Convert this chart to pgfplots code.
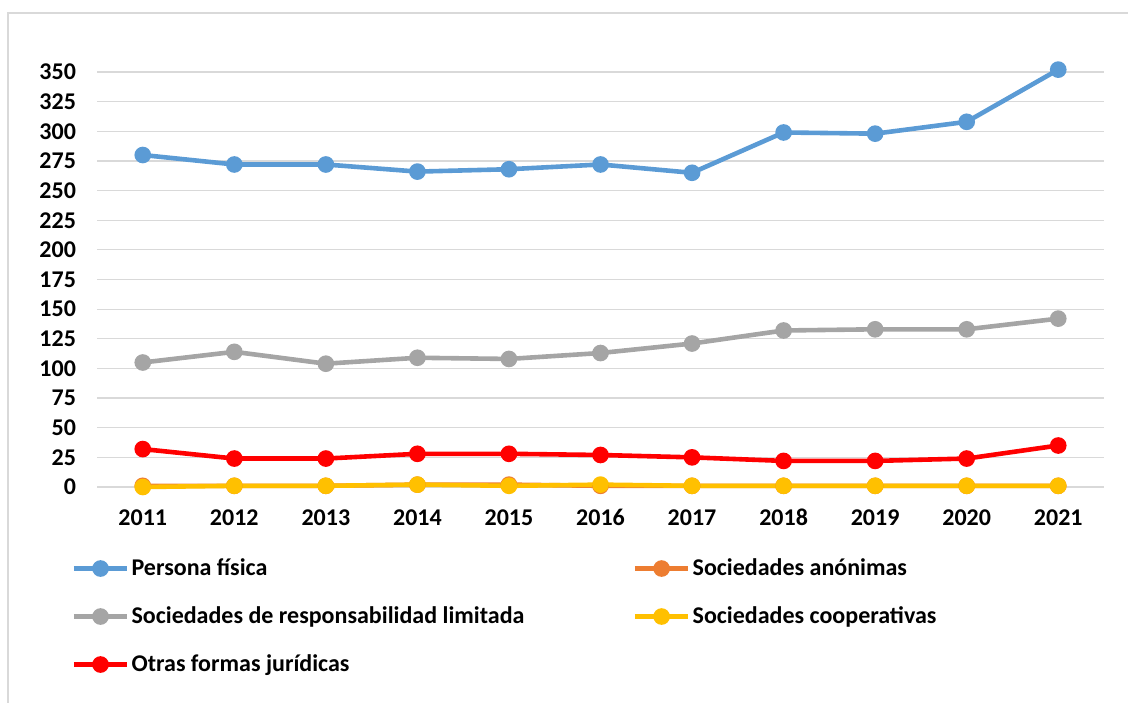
\documentclass[border=0pt]{standalone}
\usepackage{pgfplots}
\pgfplotsset{compat=1.18}
\usepackage{fontspec}
\setmainfont{Carlito}
\definecolor{cblue}{HTML}{5B9BD5}
\definecolor{corange}{HTML}{ED7D31}
\definecolor{cgray}{HTML}{A5A5A5}
\definecolor{cyellow}{HTML}{FFC000}
\definecolor{cred}{HTML}{FF0000}
\definecolor{cgrid}{HTML}{D9D9D9}
\newcommand{\lt}[1]{\makebox[240pt][l]{#1}}
\begin{document}
\begin{tikzpicture}
\clip (0,0) rectangle (564pt,351pt);
\draw[cgrid, line width=0.8pt] (4pt,-5pt) rectangle (580pt,344.5pt);
\begin{axis}[
  at={(48.5pt,107.5pt)}, anchor=south west,
  scale only axis, width=503.5pt, height=207.5pt,
  xmin=-0.5, xmax=10.5, ymin=0, ymax=350,
  clip=false,
  axis line style={draw=none},
  major tick length=0pt,
  xtick={0,...,10},
  xticklabels={2011,2012,2013,2014,2015,2016,2017,2018,2019,2020,2021},
  ytick={0,25,...,350},
  ymajorgrids, grid style={cgrid, line width=0.6pt},
  font=\fontsize{12}{14}\selectfont\bfseries,
  tick label style={font=\fontsize{12}{14}\selectfont\bfseries},
  /pgf/number format/assume math mode=true,
  yticklabel style={xshift=-7pt},
  xticklabel style={anchor=base, yshift=-19pt},
  every axis plot/.append style={line width=2.3pt, mark=*, mark size=3pt, mark options={solid}},
  legend columns=2,
  legend cell align=left,
  legend style={draw=none, fill=none, at={(-0.0317,-0.128)}, anchor=north west,
    nodes={inner sep=0pt, minimum height=24pt, font=\fontsize{12}{14}\selectfont\bfseries},
    /tikz/every odd column/.append style={column sep=1pt},
    /tikz/every even column/.append style={column sep=10.5pt}},
  legend image code/.code={\draw[#1,mark repeat=2,mark phase=2] plot coordinates {(0cm,0cm)(0.47cm,0cm)(0.94cm,0cm)};},
]
\addplot[color=cblue] coordinates {(0,280)(1,272)(2,272)(3,266)(4,268)(5,272)(6,265)(7,299)(8,298)(9,308)(10,352)};
\addlegendentry{\lt{Persona física}}
\addplot[color=corange] coordinates {(0,1)(1,1)(2,1)(3,2)(4,2)(5,1)(6,1)(7,1)(8,1)(9,1)(10,1)};
\addlegendentry{\lt{Sociedades anónimas}}
\addplot[color=cgray] coordinates {(0,105)(1,114)(2,104)(3,109)(4,108)(5,113)(6,121)(7,132)(8,133)(9,133)(10,142)};
\addlegendentry{\lt{Sociedades de responsabilidad limitada}}
\addplot[color=cyellow] coordinates {(0,0)(1,1)(2,1)(3,2)(4,1)(5,2)(6,1)(7,1)(8,1)(9,1)(10,1)};
\addlegendentry{\lt{Sociedades cooperativas}}
\addplot[color=cred] coordinates {(0,32)(1,24)(2,24)(3,28)(4,28)(5,27)(6,25)(7,22)(8,22)(9,24)(10,35)};
\addlegendentry{\lt{Otras formas jurídicas}}
\end{axis}
\end{tikzpicture}
\end{document}
